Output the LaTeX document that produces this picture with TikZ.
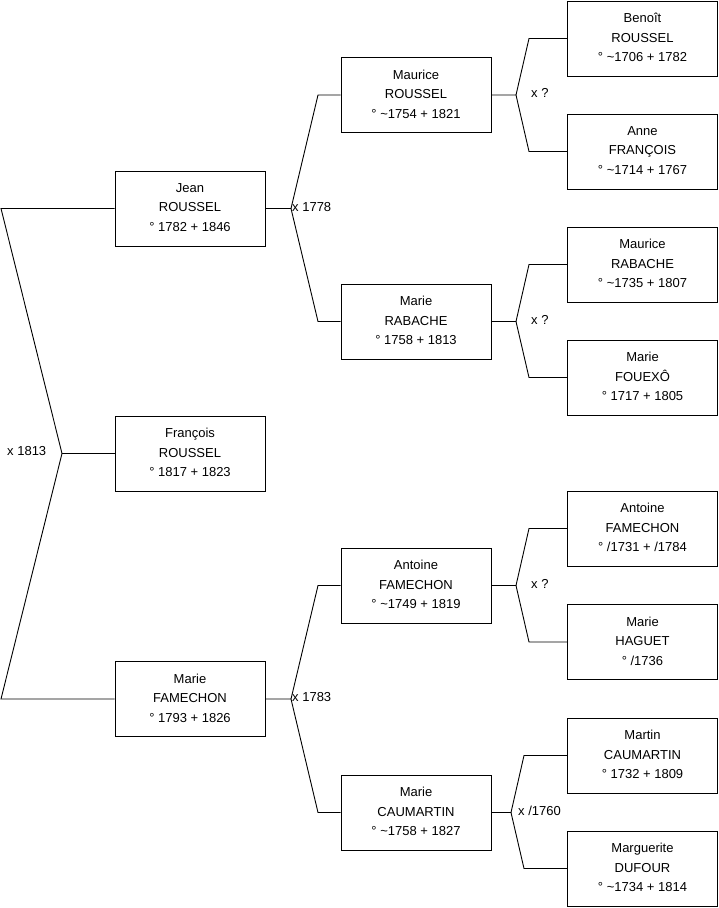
\documentclass[tikz,border=0pt]{standalone}
\usepackage{fontspec}
\setmainfont{Liberation Sans}
\begin{document}
\begin{tikzpicture}[x=1pt,y=-1pt,
  person/.style={draw=black,line width=0.9pt,minimum width=150pt,minimum height=75pt,
    align=center,inner sep=0pt,text depth=2pt,font=\fontsize{13}{19.7}\selectfont},
  link/.style={draw=black,line width=0.9pt},
  lbl/.style={anchor=west,inner sep=0pt,font=\fontsize{13}{15}\selectfont}]
\useasboundingbox (0,0) rectangle (719,908);
% column 1
\node[person] (jean) at (190,208.5) {Jean\\ROUSSEL\\° 1782 + 1846};
\node[person] (fran) at (190,453.5) {François\\ROUSSEL\\° 1817 + 1823};
\node[person] (mfam) at (190,699) {Marie\\FAMECHON\\° 1793 + 1826};
% column 2
\node[person] (mrou) at (416,95) {Maurice\\ROUSSEL\\° \textasciitilde1754 + 1821};
\node[person] (mrab) at (416,321.5) {Marie\\RABACHE\\° 1758 + 1813};
\node[person] (afam) at (416,585.5) {Antoine\\FAMECHON\\° \textasciitilde1749 + 1819};
\node[person] (mcau) at (416,812.5) {Marie\\CAUMARTIN\\° \textasciitilde1758 + 1827};
% column 3
\node[person] (brou) at (642.5,38.5) {Benoît\\ROUSSEL\\° \textasciitilde1706 + 1782};
\node[person] (afra) at (642.5,151.5) {Anne\\FRANÇOIS\\° \textasciitilde1714 + 1767};
\node[person] (maur) at (642.5,264.5) {Maurice\\RABACHE\\° \textasciitilde1735 + 1807};
\node[person] (mfou) at (642.5,377.5) {Marie\\FOUEXÔ\\° 1717 + 1805};
\node[person] (afa2) at (642.5,528.5) {Antoine\\FAMECHON\\° /1731 + /1784};
\node[person] (mhag) at (642.5,642) {Marie\\HAGUET\\° /1736};
\node[person] (mcm2) at (642.5,755.5) {Martin\\CAUMARTIN\\° 1732 + 1809};
\node[person] (mduf) at (642.5,868.5) {Marguerite\\DUFOUR\\° \textasciitilde1734 + 1814};
% coordinates
\coordinate (a1) at (1,208.5);
\coordinate (a2) at (62,453.5);
\coordinate (a3) at (1,699);
\coordinate (b1) at (291,208.5);
\coordinate (b1u) at (318,95);
\coordinate (b1d) at (318,321.5);
\coordinate (b2) at (291,699);
\coordinate (b2u) at (318,585.5);
\coordinate (b2d) at (318,812.5);
\coordinate (c1) at (516,95);
\coordinate (c1u) at (529,38.5);
\coordinate (c1d) at (529,151.5);
\coordinate (c2) at (516,321.5);
\coordinate (c2u) at (529,264.5);
\coordinate (c2d) at (529,377.5);
\coordinate (c3) at (516,585.5);
\coordinate (c3u) at (529,528.5);
\coordinate (c3d) at (529,642);
\coordinate (c4) at (511,812.5);
\coordinate (c4u) at (524,755.5);
\coordinate (c4d) at (524,868.5);
% connectors
\draw[link] (jean.west) -- (a1) -- (a2) -- (a3) -- (mfam.west);
\draw[link] (a2) -- (fran.west);
\draw[link] (jean.east) -- (b1) -- (b1u) -- (mrou.west);
\draw[link] (b1) -- (b1d) -- (mrab.west);
\draw[link] (mfam.east) -- (b2) -- (b2u) -- (afam.west);
\draw[link] (b2) -- (b2d) -- (mcau.west);
\draw[link] (mrou.east) -- (c1) -- (c1u) -- (brou.west);
\draw[link] (c1) -- (c1d) -- (afra.west);
\draw[link] (mrab.east) -- (c2) -- (c2u) -- (maur.west);
\draw[link] (c2) -- (c2d) -- (mfou.west);
\draw[link] (afam.east) -- (c3) -- (c3u) -- (afa2.west);
\draw[link] (c3) -- (c3d) -- (mhag.west);
\draw[link] (mcau.east) -- (c4) -- (c4u) -- (mcm2.west);
\draw[link] (c4) -- (c4d) -- (mduf.west);
% labels
\node[lbl] (l1) at (7,451.5) {x 1813};
\node[lbl] (l2) at (292,207) {x 1778};
\node[lbl] (l3) at (292,697.5) {x 1783};
\node[lbl] (l4) at (531,92.5) {x ?};
\node[lbl] (l5) at (531,319.5) {x ?};
\node[lbl] (l6) at (531,583.5) {x ?};
\node[lbl] (l7) at (518,811) {x /1760};
\end{tikzpicture}
\end{document}
